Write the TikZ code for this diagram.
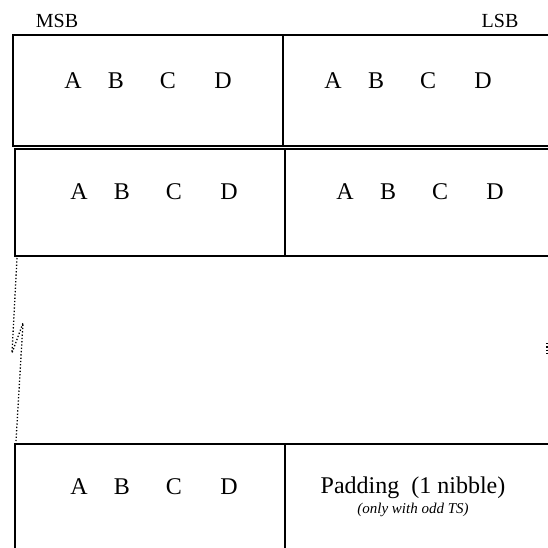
\documentclass[tikz,border=0pt]{standalone}
\usepackage{fontspec}
\setmainfont{Liberation Serif}
\usepackage{tikz}
\usetikzlibrary{positioning}

% four nibble letters of one byte
\newcommand{\nibbles}[3]{%
  \foreach \l/\dx in {A/0,B/43,C/95,D/150}
    \node[letter] (#1-\l) at (#2+\dx,#3) {\l};}

\begin{document}
\begin{tikzpicture}[
    x=1pt, y=-1pt,
    letter/.style={inner sep=0pt, font=\fontsize{24}{26}\selectfont},
    endlbl/.style={inner sep=0pt, font=\fontsize{20}{22}\selectfont},
    wall/.style={line width=1.8pt},
    gap/.style={line width=1.3pt, dash pattern=on 1.3pt off 2pt}
]
\useasboundingbox (0,0) rectangle (548,548);

\node[endlbl] (msb) at (57,21) {MSB};
\node[endlbl] (lsb) at (500,21) {LSB};

% first row
\draw[wall] (548,35) -- (13,35) -- (13,146) -- (548,146);
\draw[line width=2.4pt] (283,35) -- (283,146);
\nibbles{r1l}{73}{81}
\nibbles{r1r}{333}{81}

% second row
\draw[wall] (548,149) -- (15,149) -- (15,256) -- (548,256);
\draw[wall] (285,149) -- (285,256);
\nibbles{r2l}{79}{192}
\nibbles{r2r}{345}{192}

% last row
\draw[wall] (548,444) -- (15,444) -- (15,548);
\draw[wall] (285,444) -- (285,548);
\nibbles{r3l}{79}{487}
\node[letter] (pad) at (413,488) {Padding\ \ (1 nibble)};
\node[inner sep=0pt, font=\fontsize{15}{17}\selectfont\itshape, below=4pt of pad] (odd) {(only with odd TS)};

% broken gap between the rows
\coordinate (g1) at (17,258);
\coordinate (g2) at (12,353);
\coordinate (g3) at (23,323);
\coordinate (g4) at (16,441);
\draw[gap] (g1) -- (g2) -- (g3) -- (g4);
\coordinate (h1) at (547,343);
\coordinate (h2) at (547,356);
\draw[gap] (h1) -- (h2);
\end{tikzpicture}
\end{document}
